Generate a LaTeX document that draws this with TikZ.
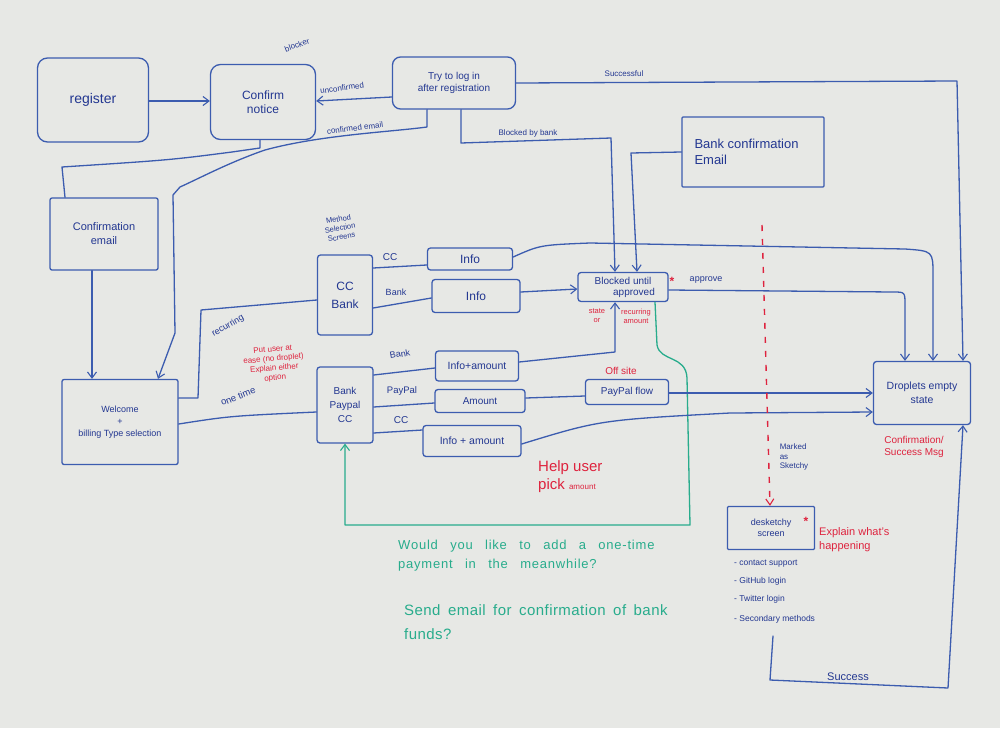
\documentclass[tikz,border=0pt]{standalone}
\usepackage{fontspec}
\setmainfont{Liberation Sans}
\usetikzlibrary{arrows.meta,calc}
\definecolor{board}{RGB}{231,232,229}
\definecolor{mk}{RGB}{60,92,175}
\definecolor{ink}{RGB}{35,55,145}
\definecolor{rd}{RGB}{222,35,62}
\definecolor{gr}{RGB}{40,172,140}
\begin{document}
\begin{tikzpicture}[x=1pt,y=-1pt,
  line/.style={draw=mk, line width=1.3pt, line cap=round, line join=round},
  arr/.style={line, -{Straight Barb[length=6pt,width=9pt,line width=1.1pt]}},
  box/.style={draw=mk, line width=1.3pt, rounded corners=3pt, text=ink, align=center, inner sep=1pt},
  lbl/.style={text=ink, font=\fontsize{8}{9.5}\selectfont, align=center, inner sep=1pt},
  note/.style={text=rd, align=center, inner sep=1pt},
  gnote/.style={text=gr, align=left, inner sep=1pt, anchor=west},
  star/.style={text=rd, font=\bfseries\fontsize{12}{12}\selectfont, inner sep=0pt},
]
\fill[board] (0,0) rectangle (1000,728);
\useasboundingbox (0,0) rectangle (1000,728);

% ---------- boxes ----------
\node[box, minimum width=111pt, minimum height=84pt, rounded corners=10pt, font=\fontsize{14}{16}\selectfont] (register) at (93,100) {register};
\node[box, minimum width=105pt, minimum height=75pt, rounded corners=10pt, font=\fontsize{12}{14}\selectfont] (confirm) at (263,102) {Confirm\\notice};
\node[box, minimum width=123pt, minimum height=52pt, rounded corners=8pt, font=\fontsize{10}{12}\selectfont] (try) at (454,83) {Try to log in\\after registration};
\node[box, minimum width=108pt, minimum height=72pt, rounded corners=2pt, font=\fontsize{11}{14}\selectfont] (confemail) at (104,234) {Confirmation\\email};
\node[box, minimum width=116pt, minimum height=85pt, rounded corners=2pt, font=\fontsize{9}{12}\selectfont] (welcome) at (120,422) {Welcome\\+\\billing Type selection};
\node[box, minimum width=55pt, minimum height=80pt, font=\fontsize{12}{18}\selectfont] (ccbank) at (345,295) {CC\\Bank};
\node[box, minimum width=56pt, minimum height=76pt, font=\fontsize{10}{14}\selectfont] (bpc) at (345,405) {Bank\\Paypal\\CC};
\node[box, minimum width=85pt, minimum height=22pt, font=\fontsize{12}{14}\selectfont] (info1) at (470,259) {Info};
\node[box, minimum width=88pt, minimum height=33pt, font=\fontsize{12}{14}\selectfont] (info2) at (476,296) {Info};
\node[box, minimum width=90pt, minimum height=29pt, font=\fontsize{10}{11}\selectfont] (blocked) at (623,287) {Blocked until\\\hspace*{2.2em}approved};
\node[box, minimum width=142pt, minimum height=70pt, rounded corners=1pt, align=left, font=\fontsize{13}{16}\selectfont] (bankconf) at (753,152) {Bank confirmation\\Email\hspace*{6.5em}};
\node[box, minimum width=83pt, minimum height=30pt, font=\fontsize{10.5}{12}\selectfont] (infoamt) at (477,366) {Info+amount};
\node[box, minimum width=90pt, minimum height=23pt, font=\fontsize{10}{12}\selectfont] (amount) at (480,401) {Amount};
\node[box, minimum width=98pt, minimum height=31pt, font=\fontsize{10.5}{12}\selectfont] (infoamt2) at (472,441) {Info + amount};
\node[box, minimum width=83pt, minimum height=25pt, font=\fontsize{10}{12}\selectfont] (paypal) at (627,392) {PayPal flow};
\node[box, minimum width=97pt, minimum height=63pt, font=\fontsize{10.5}{14}\selectfont] (droplets) at (922,393) {Droplets empty\\state};
\node[box, minimum width=87pt, minimum height=43pt, rounded corners=1pt, font=\fontsize{9}{11}\selectfont] (desk) at (771,528) {desketchy\\screen};

% ---------- connectors ----------
\draw[arr] (register.east |- 0,101) -- (confirm.west |- 0,101);
\draw[arr] (try.west |- 0,97) -- (confirm.east |- 0,101);
\draw[arr] (try.south -| 427,0) -- (427,127) .. controls (390,132) and (320,135) .. (265,150)
   .. controls (230,162) and (200,178) .. (180,187) -- (173,195) -- (175,333) -- (welcome.north -| 158,0);
\draw[line] (confirm.south -| 260,0) -- (260,148) -- (232,152) .. controls (170,160) .. (62,167) -- (confemail.north -| 65,0);
\draw[arr] (confemail.south -| 92,0) -- (welcome.north -| 92,0);
\draw[line] (welcome.east |- 0,398) -- (198,398) -- (201,310) -- (ccbank.west |- 0,300);
\draw[line] (welcome.east |- 0,424) .. controls (230,416) .. (bpc.west |- 0,412);
\draw[line] (ccbank.east |- 0,268) -- (info1.west |- 0,265);
\draw[line] (ccbank.east |- 0,308) -- (info2.west |- 0,298);
\draw[arr] (info1.east |- 0,257) .. controls (540,245) .. (590,243) -- (905,249) .. controls (933,251) .. (933,275) -- (droplets.north -| 933,0);
\draw[arr] (info2.east |- 0,292) -- (blocked.west |- 0,289);
\draw[arr] (try.south -| 461,0) -- (461,143) -- (611,138) -- (blocked.north -| 615,0);
\draw[arr] (bankconf.west |- 0,152) -- (631,153) -- (blocked.north -| 637,0);
\draw[arr] (try.east |- 0,83) -- (957,81) -- (droplets.north -| 963,0);
\draw[arr] (blocked.east |- 0,290) -- (893,292) .. controls (905,292) .. (905,305) -- (droplets.north -| 905,0);
\draw[arr] (infoamt.east |- 0,362) -- (615,352) -- (blocked.south -| 615,0);
\draw[line, draw=gr, -{Straight Barb[length=6pt,width=9pt,line width=1.1pt]}]
   (blocked.south -| 655,0) -- (657,345) .. controls (660,362) and (686,355) .. (687,378) -- (690,525) -- (345,525) -- (bpc.south -| 345,0);
\draw[line] (bpc.east |- 0,375) -- (infoamt.west |- 0,368);
\draw[line] (bpc.east |- 0,407) -- (amount.west |- 0,403);
\draw[line] (bpc.east |- 0,433) -- (infoamt2.west |- 0,430);
\draw[line] (amount.east |- 0,398) -- (paypal.west |- 0,396);
\draw[arr] (paypal.east |- 0,393) -- (droplets.west |- 0,393);
\draw[arr] (infoamt2.east |- 0,444) .. controls (600,420) .. (730,413) -- (droplets.west |- 0,412);
\coordinate (dtop) at (762,225);
\draw[draw=rd, line width=1.4pt, dash pattern=on 6pt off 8pt, -{Straight Barb[length=6pt,width=8pt,line width=1.1pt]}] (dtop) -- (desk.north -| 770,0);
\coordinate (sstart) at (773,636);
\draw[arr] (sstart) -- (770,680) -- (948,688) -- (droplets.south -| 963,0);

% ---------- labels ----------
\node[lbl, rotate=20] (blocker) at (297,45) {blocker};
\node[lbl, rotate=8] (unconf) at (342,88) {unconfirmed};
\node[lbl, rotate=7] (confd) at (355,128) {confirmed email};
\node[lbl] (succful) at (624,74) {Successful};
\node[lbl] (bbb) at (528,133) {Blocked by bank};
\node[lbl, rotate=10, font=\fontsize{7.5}{9}\selectfont] (mss) at (340,228) {Method\\Selection\\Screens};
\node[lbl, font=\fontsize{10}{12}\selectfont] (lcc1) at (390,257) {CC};
\node[lbl, font=\fontsize{9}{11}\selectfont] (lbank1) at (396,292) {Bank};
\node[lbl, rotate=30, font=\fontsize{9}{11}\selectfont] (lrec) at (228,326) {recurring};
\node[lbl, rotate=22, font=\fontsize{9.5}{11}\selectfont] (lone) at (238,396) {one time};
\node[note, rotate=5, font=\fontsize{8}{9.5}\selectfont] (ease) at (274,364) {Put user at\\ease (no droplet)\\Explain either\\option};
\node[lbl, rotate=10, font=\fontsize{9}{11}\selectfont] (lbank2) at (400,354) {Bank};
\node[lbl, font=\fontsize{9.5}{11}\selectfont] (lpp) at (402,391) {PayPal};
\node[lbl, font=\fontsize{10}{12}\selectfont] (lcc2) at (401,420) {CC};
\node[note, font=\fontsize{10}{12}\selectfont] (offsite) at (621,371) {Off site};
\node[note, align=left, anchor=west, font=\fontsize{15}{18}\selectfont] (help) at (537,477) {Help user\\pick {\fontsize{8}{8}\selectfont amount}};
\node[note, font=\fontsize{7.5}{9}\selectfont] (stor) at (597,316) {state\\or};
\node[note, font=\fontsize{7.5}{9}\selectfont] (recam) at (636,316) {recurring\\amount};
\node[star] (star1) at (672,281) {*};
\node[star] (star2) at (806,521) {*};
\node[lbl, font=\fontsize{9}{11}\selectfont] (lapp) at (706,280) {approve};
\node[lbl, align=left, font=\fontsize{8}{9.5}\selectfont] (marked) at (794,457) {Marked\\as\\Sketchy};
\node[note, font=\fontsize{10}{12}\selectfont] (csm) at (914,447) {Confirmation/\\Success Msg};
\node[note, align=left, anchor=west, font=\fontsize{11}{14}\selectfont] (explain) at (818,540) {Explain what's\\happening};
\node[lbl, anchor=west, font=\fontsize{8.5}{10}\selectfont] (li1) at (733,564) {- contact support};
\node[lbl, anchor=west, font=\fontsize{8.5}{10}\selectfont] (li2) at (733,581) {- GitHub login};
\node[lbl, anchor=west, font=\fontsize{8.5}{10}\selectfont] (li3) at (733,599) {- Twitter login};
\node[lbl, anchor=west, font=\fontsize{8.5}{10}\selectfont] (li4) at (733,619) {- Secondary methods};
\node[lbl, font=\fontsize{11}{13}\selectfont] (lsucc) at (848,677) {Success};
\node[gnote, font={\fontsize{13}{19}\selectfont\addfontfeatures{LetterSpace=6}\spaceskip=0.95em plus 0.1em}] (would) at (397,556) {Would you like to add a one-time\\payment in the meanwhile?};
\node[gnote, font={\fontsize{15}{24}\selectfont\addfontfeatures{LetterSpace=3}\spaceskip=0.5em plus 0.1em}] (send) at (403,622) {Send email for confirmation of bank\\funds?};
\end{tikzpicture}
\end{document}
